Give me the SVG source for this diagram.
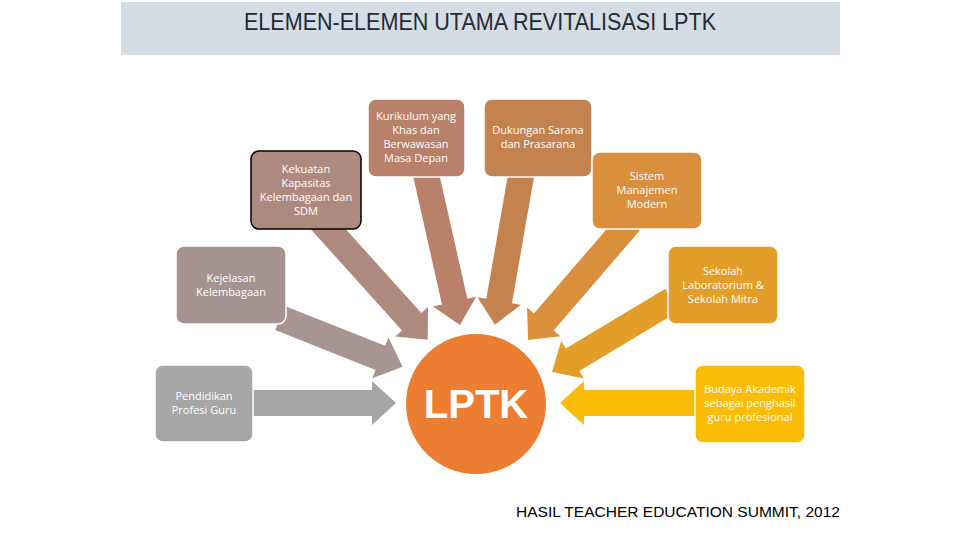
<svg xmlns="http://www.w3.org/2000/svg" width="960" height="540" viewBox="0 0 960 540">
<style>
.box{stroke:#fff;stroke-width:1.5}
.t{font-family:"Open Sans","Liberation Sans",sans-serif;font-size:11px;fill:#fff;text-anchor:middle}
</style>
<rect width="960" height="540" fill="#fff"/>
<rect x="121" y="2" width="719" height="53" fill="#d6dce4"/>
<text x="480" y="30" font-family="'Liberation Sans',sans-serif" font-size="24" fill="#222a35" text-anchor="middle" textLength="472" lengthAdjust="spacingAndGlyphs">ELEMEN-ELEMEN UTAMA REVITALISASI LPTK</text>
<g id="connectors">
<path transform="translate(252,403)" d="M0,-13 L120,-13 L120,-22 L144,0 L120,22 L120,13 L0,13Z" fill="#a6a6a6"/>
<path transform="translate(280,318) rotate(21.7)" d="M0,-13 L108,-13 L108,-22 L132,0 L108,22 L108,13 L0,13Z" fill="#a89592"/>
<path transform="translate(320,220) rotate(48)" d="M0,-13 L137,-13 L137,-22 L161,0 L137,22 L137,13 L0,13Z" fill="#ae8a7e"/>
<path transform="translate(425,170) rotate(77.3)" d="M0,-13 L135,-13 L135,-22 L159,0 L135,22 L135,13 L0,13Z" fill="#b9806a"/>
<path transform="translate(522,170) rotate(99.9)" d="M0,-13 L133,-13 L133,-22 L157,0 L133,22 L133,13 L0,13Z" fill="#c4834e"/>
<path transform="translate(630,222) rotate(130.8)" d="M0,-13 L132,-13 L132,-22 L156,0 L132,22 L132,13 L0,13Z" fill="#d98f3c"/>
<path transform="translate(672,300) rotate(149)" d="M0,-13 L116,-13 L116,-22 L140,0 L116,22 L116,13 L0,13Z" fill="#e39e2a"/>
<path transform="translate(700,403) rotate(180)" d="M0,-13 L116,-13 L116,-22 L140,0 L116,22 L116,13 L0,13Z" fill="#fbbc05"/>
</g>
<g id="lptk"><circle cx="476" cy="404" r="70" fill="#ed7d31"/><text x="476" y="418" font-family="'Liberation Sans',sans-serif" font-weight="bold" font-size="40" fill="#fff" text-anchor="middle">LPTK</text></g>
<g id="n1"><rect class="box" x="155" y="365" width="98" height="77" rx="8" fill="#a6a6a6"/><text class="t" x="204" y="400">Pendidikan</text><text class="t" x="204" y="414">Profesi Guru</text></g>
<g id="n2"><rect class="box" x="176" y="246" width="110" height="78" rx="8" fill="#a69391"/><text class="t" x="231" y="282">Kejelasan</text><text class="t" x="231" y="296">Kelembagaan</text></g>
<g id="n3"><rect x="251" y="151" width="110" height="78" rx="8" fill="#ae8a7e" stroke="#000" stroke-width="1.5"/><text class="t" x="306" y="173">Kekuatan</text><text class="t" x="306" y="187">Kapasitas</text><text class="t" x="306" y="201">Kelembagaan dan</text><text class="t" x="306" y="215">SDM</text></g>
<g id="n4"><rect class="box" x="368" y="99" width="97" height="78" rx="8" fill="#b9806a"/><text class="t" x="416" y="120">Kurikulum yang</text><text class="t" x="416" y="134">Khas dan</text><text class="t" x="416" y="148">Berwawasan</text><text class="t" x="416" y="162">Masa Depan</text></g>
<g id="n5"><rect class="box" x="484" y="99" width="108" height="78" rx="8" fill="#c4834e"/><text class="t" x="538" y="134">Dukungan Sarana</text><text class="t" x="538" y="148">dan Prasarana</text></g>
<g id="n6"><rect class="box" x="592" y="152" width="110" height="77" rx="8" fill="#d98f3c"/><text class="t" x="647" y="180">Sistem</text><text class="t" x="647" y="194">Manajemen</text><text class="t" x="647" y="208">Modern</text></g>
<g id="n7"><rect class="box" x="668" y="246" width="110" height="78" rx="8" fill="#e39e2a"/><text class="t" x="723" y="275">Sekolah</text><text class="t" x="723" y="289">Laboratorium &amp;</text><text class="t" x="723" y="303">Sekolah Mitra</text></g>
<g id="n8"><rect class="box" x="695" y="365" width="110" height="78" rx="8" fill="#fbbc05"/><text class="t" x="750" y="393">Budaya Akademik</text><text class="t" x="750" y="407">sebagai penghasil</text><text class="t" x="750" y="421">guru profesional</text></g>
<text x="678" y="517" font-family="'Liberation Sans',sans-serif" font-size="14" fill="#000" text-anchor="middle" textLength="324" lengthAdjust="spacingAndGlyphs">HASIL TEACHER EDUCATION SUMMIT, 2012</text>
</svg>
